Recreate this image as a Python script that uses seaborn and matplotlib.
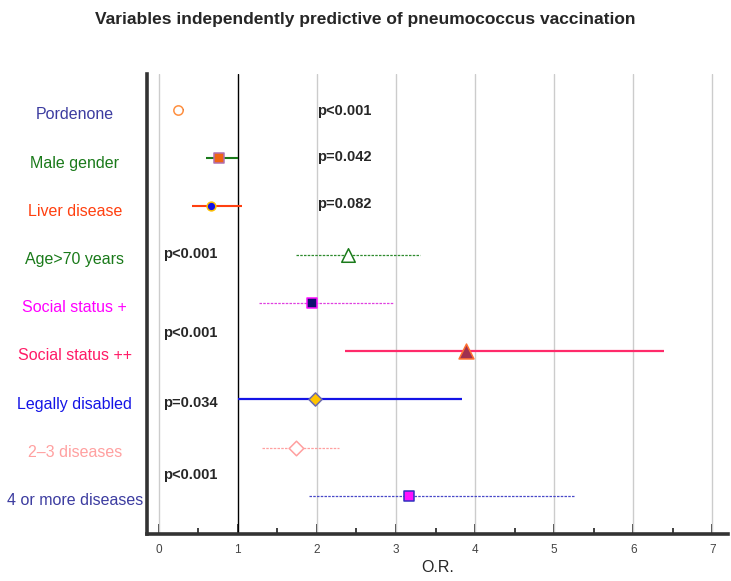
import matplotlib
matplotlib.use("Agg")
import matplotlib.pyplot as plt
import matplotlib.transforms as mtransforms
from matplotlib.ticker import MultipleLocator
import seaborn as sns

# data
variables = ["Pordenone", "Male gender", "Liver disease", "Age>70 years", "Social status +",
             "Social status ++", "Legally disabled", "2\u20133 diseases", "4 or more diseases"]
odds_ratio = [0.24, 0.76, 0.66, 2.39, 1.94, 3.89, 1.98, 1.74, 3.16]
ci_low = [0.20, 0.60, 0.42, 1.74, 1.27, 2.36, 1.00, 1.31, 1.90]
ci_high = [0.32, 1.00, 1.05, 3.30, 2.97, 6.39, 3.83, 2.28, 5.26]
p_labels = ["p<0.001", "p=0.042", "p=0.082", "p<0.001", "p<0.001", "p=0.034", "p<0.001"]
p_x = [2.0, 2.0, 2.0, 0.05, 0.05, 0.05, 0.05]
p_y = [0.02, 0.98, 1.95, 2.99, 4.62, 6.07, 7.57]

# styles
label_colors = ["#3c3ca0", "#1a7a1a", "#ff4010", "#1a7a1a", "#ff00ff",
                "#ff1a66", "#1414e6", "#ffa0a0", "#3c3ca0"]
line_colors = ["#2020a0", "#1a7a1a", "#ff4010", "#2e8b2e", "#e040e0",
               "#ff2a6a", "#1414e6", "#ffa0a0", "#4848c8"]
line_styles = ["-", "-", "-", (0, (2, 1)), (0, (2, 1)), "-", "-", (0, (2, 1)), (0, (2, 1))]
line_widths = [1.5, 1.5, 1.5, 0.9, 0.9, 1.6, 1.6, 0.9, 0.9]
markers = ["o", "s", "o", "^", "s", "^", "D", "D", "s"]
face_colors = ["white", "#f06414", "#1010e8", "white", "#10106e", "#a03050", "#ffc400", "white", "#ff10ff"]
edge_colors = ["#ff9040", "#b070b0", "#ffc000", "#1a7a1a", "#ff10ff", "#ff7030", "#6a6ab0", "#ffa0a0", "#3030c0"]
sizes = [45, 55, 40, 95, 55, 115, 45, 55, 55]

sns.set_style("white")
plt.rcParams["font.family"] = ["Liberation Sans", "DejaVu Sans"]

fig = plt.figure(figsize=(7.31, 5.81), dpi=100)
ax = fig.add_axes([0.201, 0.081, 0.795, 0.792])

rows = list(range(len(variables)))
for i in rows:
    ax.hlines(i, ci_low[i], ci_high[i], color=line_colors[i], linestyle=line_styles[i],
              linewidth=line_widths[i], zorder=3)
    sns.scatterplot(x=[odds_ratio[i]], y=[i], marker=markers[i], s=sizes[i],
                    color=face_colors[i], edgecolor=edge_colors[i], linewidth=1.1,
                    ax=ax, zorder=4, legend=False)

ax.axvline(1, color="black", linewidth=1.0, zorder=2)
for g in [0, 2, 3, 4, 5, 6, 7]:
    ax.axvline(g, color="#cccccc", linewidth=1.0, zorder=1)

for lab, px, py in zip(p_labels, p_x, p_y):
    ax.text(px, py, lab, fontsize=10.5, fontweight="bold", va="center", ha="left", zorder=5)

trans = mtransforms.blended_transform_factory(ax.transAxes, ax.transData)
for i, lab in enumerate(variables):
    ax.text(-0.124, i + 0.1, lab, transform=trans, ha="center", va="center",
            fontsize=11.5, color=label_colors[i])

ax.set_xlim(-0.15, 7.2)
ax.set_ylim(8.79, -0.75)
ax.set_yticks([])
ax.xaxis.set_major_locator(MultipleLocator(1))
ax.xaxis.set_minor_locator(MultipleLocator(0.5))
ax.tick_params(axis="x", which="major", direction="in", length=7, width=1.3,
               color="#333333", labelsize=8.5, labelcolor="#444444", bottom=True, pad=7)
ax.tick_params(axis="x", which="minor", direction="in", length=4, width=1.3,
               color="#333333", bottom=True)
ax.set_xlabel("O.R.", fontsize=11.5, labelpad=3)

for side in ["top", "right"]:
    ax.spines[side].set_visible(False)
ax.spines["left"].set_linewidth(2.6)
ax.spines["left"].set_color("#333333")
ax.spines["bottom"].set_linewidth(2.6)
ax.spines["bottom"].set_color("#333333")

fig.text(0.5, 0.966, "Variables independently predictive of pneumococcus vaccination",
         ha="center", va="center", fontsize=12.5, fontweight="bold")

fig.savefig("out.png", dpi=100)
